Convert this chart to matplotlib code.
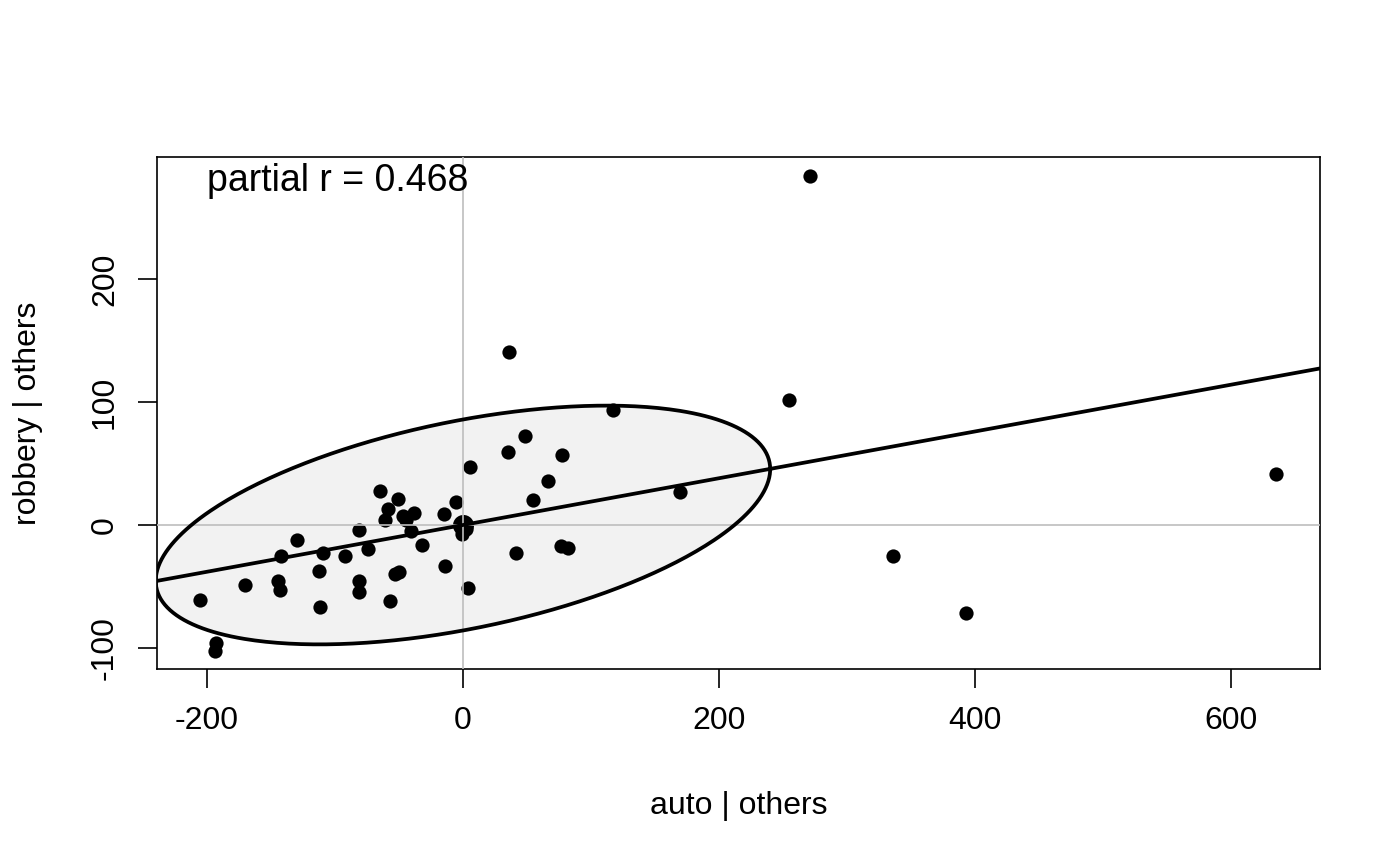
import numpy as np
import matplotlib
matplotlib.use('Agg')
import matplotlib.pyplot as plt

plt.rcParams['font.family'] = ['Liberation Sans', 'DejaVu Sans']

# ── data: added-variable plot ──
auto_res = [271.1, 35.9, 254.7, 117.2, 48.4, 35.2, 77.3, 5.5, 66.4, 169.5,
            635.2, 54.7, -64.8, -50.8, -58.6, -60.9, -46.9, -38.3, -44.5, -5.5,
            -14.8, -0.5, 2.5, -40.6, -81.3, -129.7, -32.0, -74.2, -109.4, -92.2,
            -142.2, 41.4, 76.6, 82.0, 335.9, -14.1, -112.5, -50.0, -53.1, -144.5,
            -81.3, -170.3, 3.9, -143.0, -81.3, -205.5, -57.0, -111.7, 393.0, -193.0,
            -193.8]
robbery_res = [283.7, 140.7, 101.6, 93.5, 72.4, 59.3, 56.9, 47.2, 35.8, 26.8,
               41.5, 20.3, 27.6, 21.1, 13.0, 4.1, 7.3, 9.8, 4.1, 18.7,
               8.9, -7.5, -3.0, -4.9, -4.1, -12.2, -16.3, -19.5, -22.8, -25.2,
               -25.2, -22.8, -17.1, -18.7, -25.2, -33.3, -37.4, -38.2, -39.8, -45.5,
               -45.5, -48.8, -51.2, -52.8, -54.5, -61.0, -61.8, -66.7, -71.5, -95.9,
               -102.4]

partial_r = 0.468
slope = 0.19            # fitted line through the origin
ell_sx = 240.0          # ellipse half-width along x
ell_sy = 97.0           # ellipse half-height along y

x_ticks = [-200, 0, 200, 400, 600]
y_ticks = [-100, 0, 100, 200]

fig = plt.figure(figsize=(14, 8.66), dpi=100)
ax = fig.add_axes([157/1400, 1-669/866, (1320-157)/1400, (669-157)/866])

# data ellipse
t = np.linspace(0, 2*np.pi, 400)
ex = ell_sx*np.cos(t)
ey = ell_sy*(partial_r*np.cos(t) + np.sqrt(1-partial_r**2)*np.sin(t))
ax.fill(ex, ey, color='#F2F2F2', zorder=1)
ax.plot(ex, ey, color='black', lw=2.7, zorder=4)

ax.scatter(auto_res, robbery_res, s=105, color='black', linewidths=0, zorder=2)
ax.scatter([0], [0], s=230, color='black', linewidths=0, zorder=2)

ax.axvline(0, color='#BEBEBE', lw=1.2, zorder=3)
ax.axhline(0, color='#BEBEBE', lw=1.2, zorder=3)

xs = np.array([-300, 700])
ax.plot(xs, slope*xs, color='black', lw=2.7, zorder=4)

ax.set_xlim(-239, 669.5)
ax.set_ylim(-117, 299)
ax.set_xticks(x_ticks)
ax.set_yticks(y_ticks)
ax.set_xticklabels([str(v) for v in x_ticks], fontsize=23)
ax.set_yticklabels([str(v) for v in y_ticks], fontsize=23, rotation=90, va='center')
ax.tick_params(direction='out', length=13.7, width=1.2, pad=13)

for s in ax.spines.values():
    s.set_linewidth(1.2)

ax.text(0.043, 0.9337, f'partial r = {partial_r}', transform=ax.transAxes,
        fontsize=27, ha='left', va='baseline')

fig.text(738.5/1400, 1-806/866, 'auto | others', fontsize=23, ha='center', va='center')
fig.text(28/1400, 1-413/866, 'robbery | others', fontsize=23, ha='center', va='center',
         rotation=90)

fig.savefig('out.png', dpi=100)
